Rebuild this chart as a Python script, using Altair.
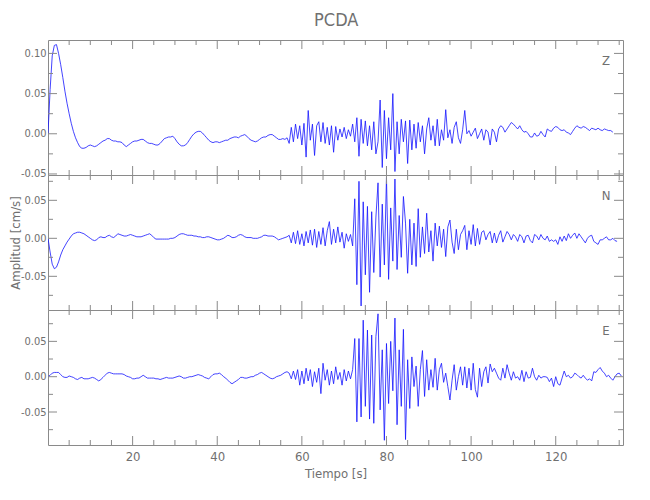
import altair as alt
import numpy as np
import pandas as pd

TITLE = "PCDA"
X_TITLE = "Tiempo [s]"
Y_TITLE = "Amplitud [cm/s]"
COMPONENTS = ["Z", "N", "E"]
DT = 0.5  # sample spacing of the traces below (s)

# amplitudes in units of 0.001 cm/s, one value every 0.5 s starting at t = 0
Z_MILLI = [
    0, 55, 97, 110, 111, 100, 86, 70, 53, 38, 25, 13, 3, -5, -11, -16, -18, -18, -17, -15,
    -14, -15, -16, -15, -13, -11, -9, -8, -6, -6, -8, -9, -9, -10, -10, -11, -14, -16, -14, -12,
    -10, -9, -9, -8, -7, -7, -9, -11, -12, -12, -13, -14, -14, -12, -9, -6, -5, -4, -4, -3,
    -6, -10, -13, -15, -15, -14, -11, -7, -3, 0, 2, 3, 3, 1, -2, -5, -8, -10, -11, -10,
    -10, -11, -10, -9, -8, -8, -6, -5, -4, -4, -5, -3, -2, -1, -3, -6, -8, -9, -10, -9,
    -7, -5, -4, -4, -2, -1, -1, -3, -5, -7, -7, -6, -7, -5, -12, 8, -10, 12, -6, 10,
    -14, 13, -29, 29, -8, 12, -27, 10, 15, -10, 14, -12, 8, -14, 10, -23, 9, -8, 6, -4,
    8, -6, 5, -3, 12, -10, 20, -28, 18, -12, 16, -15, 10, -20, 15, -25, -10, 42, -42, 29,
    -31, 20, -20, 50, -47, 15, -25, 18, -10, 16, -37, 17, -20, 12, -18, 14, -10, 10, -25, 6,
    20, -8, 10, -15, 18, -15, 5, -8, 30, -5, 5, -12, 8, 15, -5, -12, 5, 29, 0, 4,
    -3, 2, 7, -6, 0, 6, -8, 5, 2, -14, 6, 2, -10, 6, 10, 8, 2, 6, 10, 14,
    12, 9, 6, 10, 5, 2, 3, 0, -4, -4, 1, -3, -2, 3, -1, -4, 6, 4, 3, 7,
    9, 8, 5, 4, 5, 2, 1, -1, 3, 7, 10, 8, 7, 9, 8, 6, 4, 7, 6, 5,
    7, 5, 4, 6, 5, 4, 4, 2,
]
N_MILLI = [
    0, -18, -34, -40, -38, -31, -22, -15, -10, -5, -1, 3, 6, 7, 8, 8, 7, 6, 4, 2,
    0, -2, -3, -2, 1, 2, 1, 1, 3, 4, 2, 1, 3, 6, 5, 4, 3, 3, 4, 5,
    4, 3, 2, 2, 2, 3, 4, 5, 6, 4, 1, -1, -1, -1, -1, -1, -1, -1, 0, 0,
    1, 3, 5, 6, 6, 5, 4, 4, 4, 3, 3, 2, 2, 1, 1, 2, 2, 1, 0, -1,
    -2, -2, -1, 0, 2, 4, 3, 1, 1, 2, 4, 5, 4, 2, 1, 1, 1, 0, 0, 0,
    1, 2, 4, 4, 3, 3, 3, 2, 0, -2, -1, 0, 1, 2, 4, -6, 8, -7, 10, -8,
    6, -10, 9, -6, 11, -9, 12, -12, 9, -8, 14, -10, 10, 22, -8, 12, -6, 15, -5, 8,
    -13, 6, -4, 5, -10, 52, -61, 75, -89, 48, -48, 42, -71, 35, -45, 28, 73, -51, 45, -35,
    80, -54, 40, -30, 78, -41, 30, -25, 55, 20, -46, 25, -35, 20, -37, 39, -25, 15, -20, 33,
    -18, 10, -30, 20, -10, 16, -12, 12, -24, 15, 24, -5, -20, 12, -15, 5, 10, 17, -15, 10,
    -8, 18, -10, 13, -8, 8, 10, -2, 5, 9, -6, 7, -6, 4, 10, -5, 2, 9, 5, -2,
    5, 2, -4, 5, 2, -6, 3, 4, -3, -6, 5, 3, -2, 5, 0, -2, 3, -4, -2, -4,
    -2, -8, 2, -4, 3, -3, 6, 0, 4, 7, 0, 6, 2, -2, -6, 0, 3, 4, -4, -6,
    -8, -2, -2, 0, 2, -2, -2, 0, -3, -4,
]
E_MILLI = [
    0, 2, 5, 6, 6, 6, 3, 0, -1, -1, 1, 0, -1, -3, -4, -2, -1, -3, -3, -3,
    -2, -1, -2, -4, -6, -4, -1, 2, 5, 6, 5, 4, 4, 4, 4, 4, 3, 1, 0, -1,
    -3, -3, -2, -2, 0, 2, 0, -2, -2, -2, -2, -3, -3, -4, -3, -2, -1, -2, -2, -2,
    -1, 0, 1, 0, -2, -2, -1, 0, 0, 1, 2, 3, 2, 1, -1, -2, -3, 0, 3, 4,
    4, 5, 3, 0, -2, -5, -8, -10, -8, -6, -4, -1, -1, -2, -2, -1, 0, 0, 2, 3,
    5, 6, 4, 2, 0, -2, -3, -2, 0, 1, 2, 4, 6, 7, 5, -3, 8, -4, 10, -12,
    8, -10, 12, -6, 10, -14, 7, -8, 12, -24, 19, -5, 10, -12, 8, -10, 14, -4, 6, -12,
    10, -6, 8, -3, 10, 54, -64, 54, -57, 80, -42, 66, -60, 59, -66, 57, 89, -47, 38, -90,
    47, -38, 50, -20, 83, -68, 38, -42, 67, -89, 24, -45, 28, -14, 15, -42, 10, 37, -28, 24,
    -19, 10, -15, 26, -19, 10, 19, -8, 5, -14, -33, -5, 17, -19, 0, 14, -12, 14, -16, 12,
    -19, 19, -18, -29, 12, -14, 7, 14, -9, 18, 7, 12, 5, -2, -5, 12, -2, 17, 5, -5,
    7, -2, 0, -5, 9, -7, 7, -2, -1, 12, 0, -5, 2, -2, 0, 0, -1, -7, -2, -14,
    0, -10, -12, -2, 8, 0, 2, -2, 0, 5, 3, 0, -2, 2, -2, -5, -3, -6, 7, 6,
    10, 13, 8, 5, 0, 2, -2, -5, 0, 4, 5, 1,
]

X_DOMAIN = [0, 135.9]
Y_DOMAINS = [[-0.0513, 0.1167], [-0.0943, 0.0833], [-0.0967, 0.0944]]
X_MAJOR = [20, 40, 60, 80, 100, 120]
X_MINOR = [5, 10, 15, 25, 30, 35, 45, 50, 55, 65, 70, 75, 85, 90, 95, 105, 110, 115, 125, 130, 135]
Y_MAJOR = [[-0.05, 0.0, 0.05, 0.10], [-0.05, 0.0, 0.05], [-0.05, 0.0, 0.05]]
Y_MINOR = [[-0.025, 0.025, 0.075], [-0.075, -0.025, 0.025, 0.075], [-0.075, -0.025, 0.025, 0.075]]

W = 575
HEIGHTS = [135, 135, 135]
FRAME = "#8a8a8a"
TEXT = "#707070"
FONT = "Liberation Sans Narrow, DejaVu Sans Condensed, Liberation Sans, sans-serif"
MAJ, MIN = 9, 5


def panel(i, milli):
    comp = COMPONENTS[i]
    H = HEIGHTS[i]
    xs = alt.Scale(domain=X_DOMAIN, nice=False, zero=False)
    ys = alt.Scale(domain=Y_DOMAINS[i], nice=False, zero=False)
    df = pd.DataFrame({"t": np.arange(len(milli)) * DT, "v": np.array(milli) / 1000.0})

    if i == 2:
        xaxis = alt.Axis(values=X_MAJOR, title=X_TITLE, ticks=False, domain=False,
                         grid=False, labelPadding=5, titlePadding=4)
    else:
        xaxis = None
    if i == 1:
        yaxis = alt.Axis(values=Y_MAJOR[i], format=".2f", ticks=False, domain=False, grid=False,
                         labelExpr="replace(datum.label, '\u2212', '-')",
                         labelPadding=2, title=Y_TITLE, titleX=-26)
    else:
        yaxis = alt.Axis(values=Y_MAJOR[i], format=".2f", ticks=False, domain=False, grid=False,
                         labelExpr="replace(datum.label, '\u2212', '-')",
                         labelPadding=2, title=None)

    def xenc():
        return alt.X("t:Q", scale=xs, axis=xaxis)

    def yenc():
        return alt.Y("v:Q", scale=ys, axis=yaxis)

    line = alt.Chart(df).mark_line(color="#1414ff", strokeWidth=0.8, clip=True).encode(
        x=xenc(), y=yenc()
    )
    layers = [line]
    for vals, L in [(X_MAJOR, MAJ), (X_MINOR, MIN)]:
        base = alt.Chart(pd.DataFrame({"t": vals})).mark_rule(color=FRAME, strokeWidth=1)
        layers.append(base.encode(x=xenc(), y=alt.value(0), y2=alt.value(L)))
        layers.append(base.encode(x=xenc(), y=alt.value(H), y2=alt.value(H - L)))
    for vals, L in [(Y_MAJOR[i], MAJ), (Y_MINOR[i], MIN)]:
        base = alt.Chart(pd.DataFrame({"v": vals})).mark_rule(color=FRAME, strokeWidth=1)
        layers.append(base.encode(y=yenc(), x=alt.value(0), x2=alt.value(L)))
        layers.append(base.encode(y=yenc(), x=alt.value(W), x2=alt.value(W - L)))
    label = alt.Chart(pd.DataFrame({"c": [comp]})).mark_text(
        font=FONT, fontSize=13, color=TEXT, align="center", baseline="middle"
    ).encode(text="c:N", x=alt.value(W - 17), y=alt.value(21))
    layers.append(label)
    return alt.layer(*layers).properties(width=W, height=H)


chart = alt.vconcat(
    panel(0, Z_MILLI), panel(1, N_MILLI), panel(2, E_MILLI), spacing=0, bounds="flush"
).properties(
    title=alt.TitleParams(TITLE, anchor="middle", font=FONT, fontSize=18, fontWeight="normal",
                          color=TEXT, offset=9, dx=20),
    padding={"left": 0, "top": 4, "right": 5, "bottom": 5},
).configure_view(
    stroke=FRAME, strokeWidth=1
).configure_axis(
    labelFont=FONT, labelColor=TEXT,
    titleFont=FONT, titleColor=TEXT, titleFontWeight="normal",
).configure_axisX(
    labelFontSize=13, titleFontSize=13
).configure_axisY(
    labelFontSize=11, titleFontSize=13
)

chart.save("out.html", embed_options={"renderer": "svg", "actions": False})
